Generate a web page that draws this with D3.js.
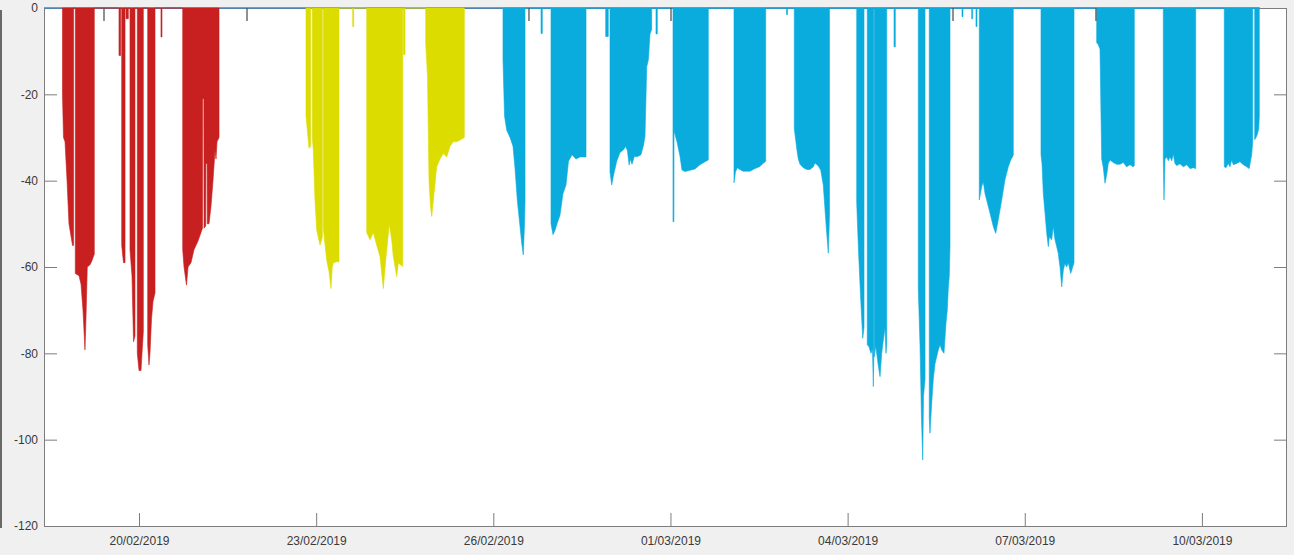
<!DOCTYPE html>
<html>
<head>
<meta charset="utf-8">
<script src="https://cdn.jsdelivr.net/npm/d3@7"></script>
<style>
  html, body { margin: 0; padding: 0; background: #f0f0f0; }
  svg { display: block; }
  .tick text { font-family: "Liberation Sans", Arial, sans-serif; font-size: 12px; fill: #3a3a3a; }
</style>
</head>
<body>
<svg id="chart" width="1294" height="555"></svg>
<script>
// Time is given in days since 18/02/2019 00:00; values are the plotted quantity.
const domainDays = [0.391, 21.441];
const baselineDays = [0.391, 20.98];

const xTickDates = ["2019-02-20", "2019-02-23", "2019-02-26", "2019-03-01", "2019-03-04", "2019-03-07", "2019-03-10"];
const xTickLabels = ["20/02/2019", "23/02/2019", "26/02/2019", "01/03/2019", "04/03/2019", "07/03/2019", "10/03/2019"];
const yTicks = [0, -20, -40, -60, -80, -100, -120];

const redSeries = [
  [0.704,0],[0.704,-20],[0.721,-30],[0.747,-31],[0.781,-40],[0.814,-50],[0.874,-55],[0.891,-55],[0.891,0],
  [0.921,0],[0.921,-61.5],[0.984,-62],[1.018,-64],[1.051,-70],[1.085,-79.2],[1.102,-72],[1.124,-60],[1.170,-59.5],[1.204,-58.5],[1.243,-57],[1.243,0],
  [1.661,0],[1.661,-11],[1.690,-11],[1.690,0],
  [1.707,0],[1.707,-55],[1.737,-59],[1.763,-59],[1.763,0],
  [1.780,0],[1.780,-2.5],[1.819,-2.5],[1.819,0],
  [1.847,0],[1.847,-56],[1.881,-62],[1.907,-77.3],[1.932,-76],[1.932,0],
  [1.971,0],[1.971,-80],[2.000,-84],[2.034,-84],[2.051,-80],[2.073,-75],[2.073,0],
  [2.147,0],[2.147,-78],[2.169,-82.7],[2.186,-80],[2.212,-72],[2.237,-68],[2.271,-66],[2.271,0],
  [2.372,0],[2.372,-6.7],[2.389,-6.7],[2.389,0],
  [2.740,0],[2.740,-56],[2.762,-60],[2.804,-64.2],[2.830,-60],[2.880,-59],[2.931,-56],[2.999,-54],[3.050,-52],[3.075,-51],[3.078,-21],[3.098,-21],[3.101,-51],[3.130,-50.5],[3.133,-36],[3.153,-36],[3.156,-50],[3.185,-50],[3.219,-46],[3.253,-40],[3.287,-33],[3.304,-35],[3.321,-31],[3.355,-30],[3.355,0]
];

const yellowSeries = [
  [4.828,0],[4.828,-25],[4.879,-32.5],[4.904,-32],[4.904,0],
  [4.935,0],[4.935,-30],[4.952,-33],[4.980,-44.5],[5.009,-51.4],[5.065,-54.9],[5.087,-54],[5.104,-53],[5.104,0],
  [5.121,0],[5.121,-51],[5.178,-58.4],[5.217,-61],[5.251,-65],[5.273,-60],[5.290,-59],[5.348,-58.8],[5.387,-58.8],[5.387,0],
  [5.619,0],[5.619,-4.3],[5.636,-4.3],[5.636,0],
  [5.856,0],[5.856,-52],[5.912,-53.7],[5.968,-52],[6.025,-54.9],[6.081,-57.6],[6.137,-65],[6.183,-57.6],[6.239,-50],[6.279,-53.7],[6.306,-57.5],[6.364,-62.2],[6.391,-59.1],[6.466,-59.9],[6.466,0],
  [6.479,0],[6.479,-10.8],[6.505,-10.8],[6.505,0],
  [6.855,0],[6.855,-8],[6.886,-16],[6.911,-40],[6.936,-46],[6.957,-48.3],[6.996,-43],[7.041,-36.8],[7.097,-35],[7.153,-33.7],[7.211,-34.5],[7.267,-32],[7.322,-31],[7.380,-31],[7.436,-30.6],[7.509,-30],[7.509,0]
];

const cyanSeries = [
  [8.164,0],[8.164,-12],[8.190,-25],[8.227,-28.3],[8.283,-30],[8.333,-32],[8.367,-37],[8.406,-44.5],[8.452,-50.6],[8.481,-54.5],[8.508,-57.2],[8.528,-50],[8.537,-45],[8.537,0],
  [8.808,0],[8.808,-5.9],[8.830,-5.9],[8.830,0],
  [8.977,0],[8.977,-50],[9.011,-52.5],[9.045,-51.5],[9.079,-50],[9.129,-48],[9.180,-43],[9.231,-41],[9.273,-35.5],[9.333,-34],[9.400,-35],[9.468,-34.5],[9.570,-34.5],[9.570,0],
  [9.903,0],[9.903,-6.6],[9.947,-6.6],[9.947,0],
  [9.976,0],[9.976,-38],[10.005,-41],[10.032,-39],[10.090,-35.5],[10.145,-33.5],[10.201,-32.9],[10.242,-32.1],[10.270,-33],[10.301,-36.4],[10.321,-35],[10.349,-36.2],[10.388,-34.4],[10.445,-34.4],[10.500,-34],[10.540,-32],[10.569,-29.7],[10.598,-13.6],[10.626,-12],[10.654,-6],[10.682,-5],[10.682,0],
  [10.755,0],[10.755,-6],[10.777,-6],[10.777,0],
  [11.043,0],[11.043,-49.5],[11.058,-49.5],[11.060,-28.5],[11.111,-31],[11.162,-34.4],[11.195,-37.5],[11.246,-37.9],[11.331,-37.6],[11.416,-37.3],[11.500,-36.3],[11.585,-35.6],[11.641,-35.2],[11.641,0],
  [12.076,0],[12.076,-40.5],[12.101,-38],[12.132,-37],[12.161,-37.3],[12.228,-37.8],[12.347,-37.8],[12.432,-37.2],[12.516,-36.7],[12.567,-36],[12.613,-35.5],[12.613,0],
  [12.965,0],[12.965,-1.5],[12.982,-1.5],[12.982,0],
  [13.097,0],[13.097,-28],[13.121,-30.6],[13.143,-33],[13.165,-35],[13.194,-36.2],[13.250,-37],[13.307,-37.4],[13.363,-37.4],[13.419,-36.8],[13.448,-35.9],[13.504,-36.6],[13.544,-37.5],[13.588,-41],[13.629,-49],[13.673,-56.8],[13.693,-48],[13.693,0],
  [14.154,0],[14.154,-45],[14.167,-50],[14.184,-56],[14.222,-67.6],[14.256,-76.5],[14.278,-74],[14.278,0],
  [14.333,0],[14.333,-78],[14.362,-78.5],[14.396,-80],[14.421,-79],[14.435,-87.7],[14.443,-82],[14.443,0],
  [14.452,0],[14.452,-80.8],[14.476,-78.3],[14.520,-82.9],[14.549,-85.4],[14.577,-80],[14.604,-77],[14.633,-74],[14.650,-80],[14.662,-78],[14.662,0],
  [14.786,0],[14.786,-9],[14.808,-9],[14.808,0],
  [15.197,0],[15.197,-65],[15.226,-78],[15.251,-95],[15.272,-104.7],[15.285,-90],[15.311,-86],[15.311,0],
  [15.383,0],[15.383,-95],[15.395,-98.5],[15.424,-91.5],[15.451,-86],[15.480,-82.4],[15.536,-79.2],[15.565,-78],[15.593,-79.2],[15.632,-80],[15.666,-73],[15.688,-70],[15.705,-65],[15.722,-62],[15.734,-55],[15.734,0],
  [15.937,0],[15.937,-2],[15.954,-2],[15.954,0],
  [16.101,0],[16.101,-2.5],[16.118,-2.5],[16.118,0],
  [16.174,0],[16.174,-4.3],[16.191,-4.3],[16.191,0],
  [16.230,0],[16.230,-44.5],[16.271,-41.3],[16.298,-40.3],[16.327,-43],[16.355,-44.5],[16.411,-47.5],[16.467,-50.6],[16.508,-52.2],[16.552,-49],[16.609,-44.5],[16.665,-39.8],[16.721,-36.8],[16.762,-35.2],[16.796,-34.4],[16.806,-34],[16.806,0],
  [17.275,0],[17.275,-34],[17.292,-36],[17.314,-43],[17.343,-47.5],[17.372,-52.2],[17.399,-55.3],[17.416,-53],[17.456,-53.7],[17.483,-50.6],[17.512,-53.7],[17.541,-55.3],[17.568,-56.9],[17.597,-60],[17.626,-64.6],[17.653,-60.7],[17.681,-59.2],[17.710,-60],[17.737,-59],[17.778,-61.5],[17.812,-60],[17.834,-59],[17.834,0],
  [18.218,0],[18.218,-8],[18.245,-8.5],[18.274,-9.5],[18.303,-35],[18.330,-37],[18.359,-40.6],[18.388,-38.6],[18.415,-36],[18.444,-35.2],[18.499,-35.8],[18.557,-36.2],[18.613,-36.2],[18.669,-35.8],[18.726,-36.8],[18.782,-36.3],[18.838,-36.8],[18.855,-36.5],[18.855,0],
  [19.346,0],[19.346,-35],[19.358,-44.5],[19.375,-35],[19.404,-34.5],[19.431,-35.4],[19.460,-34.5],[19.488,-35.4],[19.516,-33.9],[19.544,-36],[19.573,-36.5],[19.629,-36.1],[19.685,-36.8],[19.742,-36.3],[19.798,-37.2],[19.854,-37],[19.895,-37.2],[19.895,0],
  [20.379,0],[20.379,-36.8],[20.408,-37],[20.447,-36],[20.476,-36.8],[20.504,-35.2],[20.532,-36.3],[20.589,-36],[20.645,-35.6],[20.701,-36.3],[20.758,-36.8],[20.802,-37.2],[20.826,-35.2],[20.843,-34],[20.860,-31],[20.860,0],
  [20.894,0],[20.894,-30.5],[20.916,-30],[20.938,-29.3],[20.962,-28],[20.972,-25],[20.972,0]
];

// short dark marks hanging from zero
const darkSpikes = [[1.407,-3],[3.829,-3],[8.604,-3],[11.009,-3],[15.785,-3],[18.206,-3]];

// ---------------------------------------------------------------
const svg = d3.select("#chart");
const W = 1294, H = 555;
const m = { left: 44, right: 7, top: 8, bottom: 29 };
const x0 = m.left, x1 = W - m.right, y0 = m.top, y1 = H - m.bottom;

const origin = new Date(2019, 1, 18).getTime();
const toDate = d => new Date(origin + d * 86400000);

const x = d3.scaleTime().domain(domainDays.map(toDate)).range([x0, x1]);
const y = d3.scaleLinear().domain([-120, 0]).range([y1, y0]);

// left figure edge line
svg.append("line").attr("x1", 1).attr("x2", 1).attr("y1", 10).attr("y2", 528)
  .attr("stroke", "#3c3c3c").attr("stroke-width", 1.5);

// plot background
svg.append("rect").attr("x", x0).attr("y", y0).attr("width", x1 - x0).attr("height", y1 - y0)
  .attr("fill", "#ffffff");

const axisColor = "#7d7d7d";
const tickLen = 13;

const yAxisL = d3.axisLeft(y).tickValues(yTicks).tickFormat(d => String(d))
  .tickSizeInner(-tickLen).tickSizeOuter(0).tickPadding(6);
const yAxisR = d3.axisRight(y).tickValues(yTicks).tickFormat("")
  .tickSizeInner(-tickLen).tickSizeOuter(0);
const xTicks = xTickDates.map(s => { const p = s.split("-"); return new Date(+p[0], +p[1] - 1, +p[2]); });
const xAxis = d3.axisBottom(x).tickValues(xTicks).tickFormat((d, i) => xTickLabels[i])
  .tickSizeInner(-tickLen).tickSizeOuter(0).tickPadding(10);

function styleAxis(g) {
  g.select(".domain").remove();
  g.selectAll(".tick line").attr("stroke", axisColor).attr("stroke-width", 1);
}
svg.append("g").attr("transform", `translate(${x0},0)`).call(yAxisL).call(styleAxis);
svg.append("g").attr("transform", `translate(${x1},0)`).call(yAxisR).call(styleAxis);
svg.append("g").attr("transform", `translate(0,${y1})`).call(xAxis).call(styleAxis);

// box
svg.append("rect").attr("x", x0 + 0.5).attr("y", y0 + 0.5).attr("width", x1 - x0 - 1).attr("height", y1 - y0)
  .attr("fill", "none").attr("stroke", axisColor).attr("stroke-width", 1);

svg.append("clipPath").attr("id", "clip").append("rect")
  .attr("x", x0).attr("y", y0 - 1).attr("width", x1 - x0).attr("height", y1 - y0 + 1);
const plot = svg.append("g").attr("clip-path", "url(#clip)");

// zero line of the data
plot.append("path")
  .datum(baselineDays.map(d => [d, 0]))
  .attr("d", d3.line().x(d => x(toDate(d[0]))).y(d => y(d[1])))
  .attr("stroke", "#3f86c4").attr("stroke-width", 1.6).attr("fill", "none");

const area = d3.area()
  .x(d => x(toDate(d[0])))
  .y0(y(0))
  .y1(d => y(d[1]));

const seriesList = [
  { data: redSeries, color: "#c82020" },
  { data: yellowSeries, color: "#dcdc00" },
  { data: cyanSeries, color: "#0aabdd" }
];
seriesList.forEach(s => {
  plot.append("path").datum(s.data).attr("d", area)
    .attr("fill", s.color).attr("stroke", s.color).attr("stroke-width", 0.6);
});

plot.selectAll("line.spike").data(darkSpikes).enter().append("line")
  .attr("class", "spike")
  .attr("x1", d => x(toDate(d[0]))).attr("x2", d => x(toDate(d[0])))
  .attr("y1", y(0)).attr("y2", d => y(d[1]))
  .attr("stroke", "#555555").attr("stroke-width", 1.3);
</script>
</body>
</html>
